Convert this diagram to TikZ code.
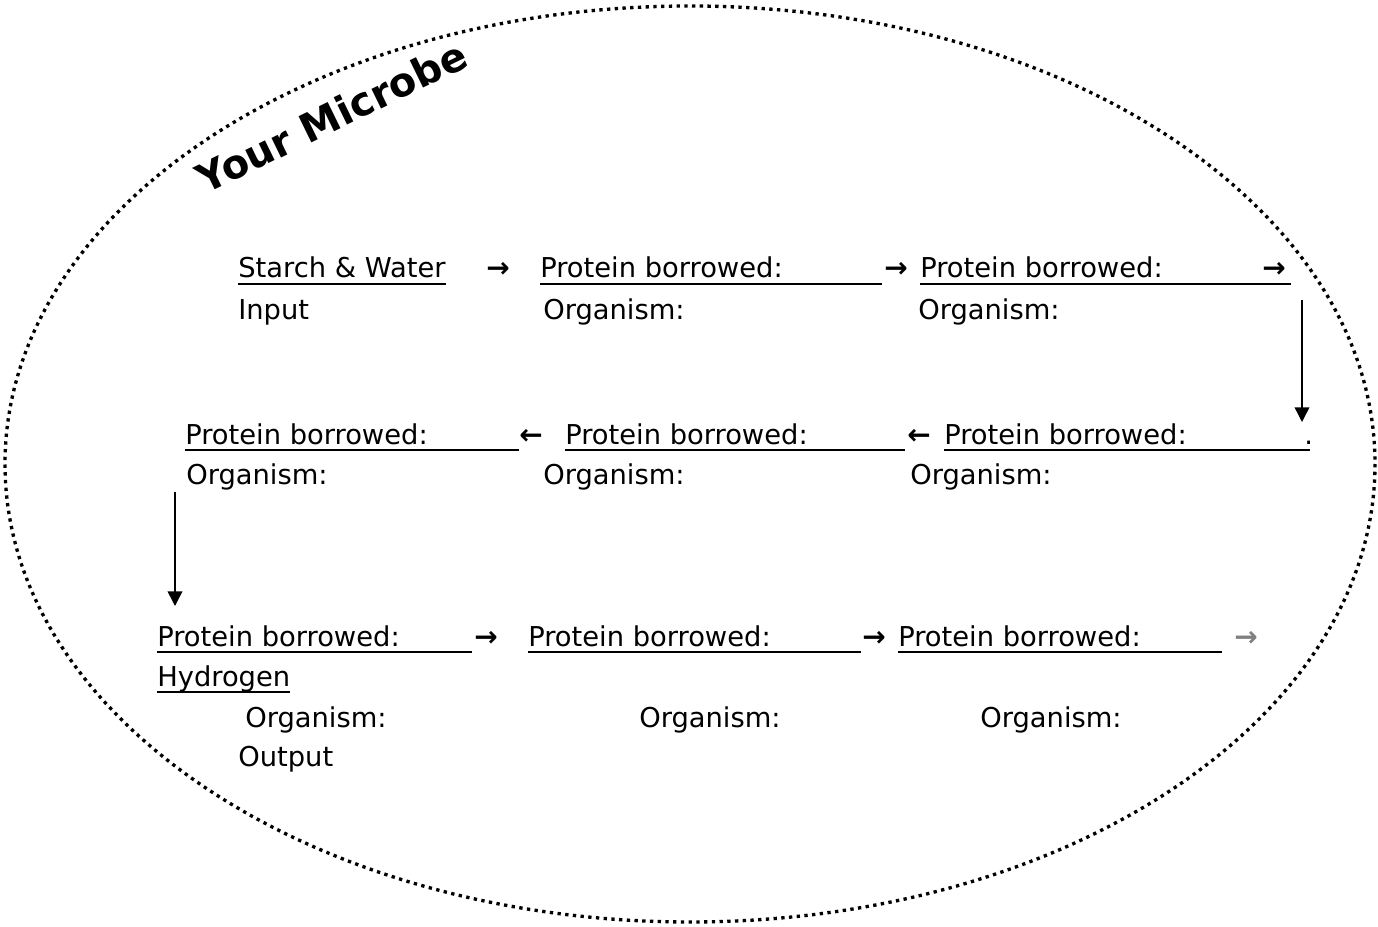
\documentclass[tikz,border=0pt]{standalone}
\usepackage{fontspec}
\setmainfont{DejaVu Sans}
\usetikzlibrary{arrows.meta}

\tikzset{
  lbl/.style={anchor=base west, inner sep=0pt, font=\fontsize{20.5}{24}\selectfont},
  glyph/.style={anchor=base west, inner sep=0pt, font=\fontsize{21}{24}\selectfont\bfseries},
  uline/.style={line width=2pt},
  downarrow/.style={line width=1.1pt, -{Triangle[length=11pt, width=11pt]}},
  cellwall/.style={line width=2.5pt, dash pattern=on 2.5pt off 3.3pt}
}

\begin{document}
\begin{tikzpicture}[x=0.75pt, y=-0.75pt]
  \useasboundingbox (0,0) rectangle (1378,927);
  \draw[cellwall] (690,464) ellipse [x radius=685, y radius=458];
  \node[anchor=base, inner sep=0pt, rotate=26, font=\fontsize{30}{36}\selectfont\bfseries] (title) at (338,130) {Your Microbe};

  % first row
  \node[lbl] (input) at (238,278) {Starch \& Water};
  \draw[uline] ([yshift=-4.5pt]input.base west) -- ([yshift=-4.5pt]input.base east);
  \node[lbl] (inlab) at (238,320) {Input};
  \node[glyph] (ar1) at (486,278) {→};
  \node[lbl] (pb1) at (540,278) {Protein borrowed:};
  \draw[uline] ([yshift=-4.5pt]pb1.base west) -- ++(342,0);
  \node[lbl] (org1) at (543,320) {Organism:};
  \node[glyph] (ar2) at (884,278) {→};
  \node[lbl] (pb2) at (920,278) {Protein borrowed:};
  \draw[uline] ([yshift=-4.5pt]pb2.base west) -- ++(371,0);
  \node[lbl] (org2) at (918,320) {Organism:};
  \node[glyph] (ar3) at (1262,278) {→};
  \coordinate (down1a) at (1302,300);
  \coordinate (down1b) at (1302,422);
  \draw[downarrow] (down1a) -- (down1b);

  % second row
  \node[lbl] (pb3) at (944,444) {Protein borrowed:};
  \draw[uline] ([yshift=-4.5pt]pb3.base west) -- ++(366,0);
  \node[lbl] (dot) at (1304,444) {.};
  \node[lbl] (org3) at (910,484) {Organism:};
  \node[glyph] (ar4) at (907,444) {←};
  \node[lbl] (pb4) at (565,444) {Protein borrowed:};
  \draw[uline] ([yshift=-4.5pt]pb4.base west) -- ++(340,0);
  \node[lbl] (org4) at (543,484) {Organism:};
  \node[glyph] (ar5) at (519,444) {←};
  \node[lbl] (pb5) at (185,444) {Protein borrowed:};
  \draw[uline] ([yshift=-4.5pt]pb5.base west) -- ++(334,0);
  \node[lbl] (org5) at (186,484) {Organism:};
  \coordinate (down2a) at (175,492);
  \coordinate (down2b) at (175,606);
  \draw[downarrow] (down2a) -- (down2b);

  % third row
  \node[lbl] (pb6) at (157,646) {Protein borrowed:};
  \draw[uline] ([yshift=-4.5pt]pb6.base west) -- ++(315,0);
  \node[lbl] (output) at (157,686) {Hydrogen};
  \draw[uline] ([yshift=-4.5pt]output.base west) -- ([yshift=-4.5pt]output.base east);
  \node[lbl] (org6) at (245,727) {Organism:};
  \node[lbl] (outlab) at (238,766) {Output};
  \node[glyph] (ar6) at (474,646) {→};
  \node[lbl] (pb7) at (528,646) {Protein borrowed:};
  \draw[uline] ([yshift=-4.5pt]pb7.base west) -- ++(333,0);
  \node[lbl] (org7) at (639,727) {Organism:};
  \node[glyph] (ar7) at (862,646) {→};
  \node[lbl] (pb8) at (898,646) {Protein borrowed:};
  \draw[uline] ([yshift=-4.5pt]pb8.base west) -- ++(324,0);
  \node[lbl] (org8) at (980,727) {Organism:};
  \node[glyph, text=gray] (ar8) at (1234,646) {→};
\end{tikzpicture}
\end{document}
